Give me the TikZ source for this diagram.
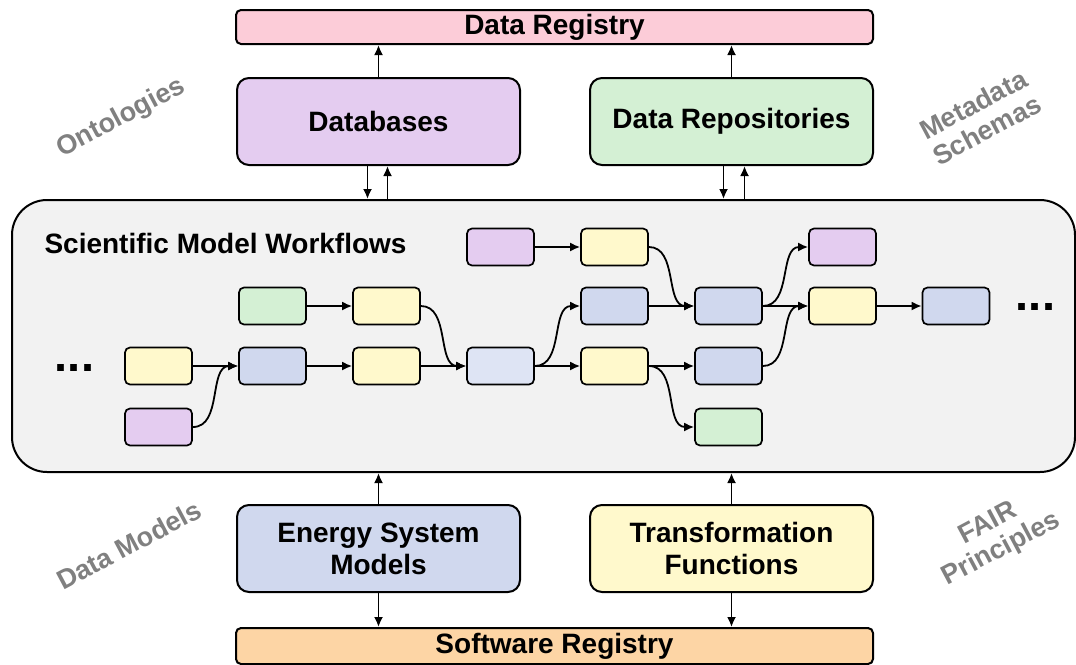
\documentclass[tikz,border=0pt]{standalone}
\usepackage{fontspec}
\setmainfont{Liberation Sans}
\usetikzlibrary{arrows.meta}
\definecolor{cpink}{HTML}{FCCCD8}
\definecolor{cpurple}{HTML}{E4CCF0}
\definecolor{cgreen}{HTML}{D4F0D4}
\definecolor{cblue}{HTML}{D0D8EE}
\definecolor{clblue}{HTML}{DEE4F4}
\definecolor{cyellow}{HTML}{FFF9CC}
\definecolor{corange}{HTML}{FDD5A5}
\definecolor{cbg}{HTML}{F2F2F2}
\definecolor{cgraytxt}{HTML}{808080}
\tikzset{
  bigbox/.style={draw, line width=2pt, rounded corners=12pt, minimum width=283pt, minimum height=87pt, align=center, font=\fontsize{28}{32}\selectfont\bfseries},
  regbox/.style={draw, line width=2pt, rounded corners=5pt, minimum width=637pt, minimum height=34pt, font=\fontsize{28}{30}\selectfont\bfseries},
  sbox/.style={draw, line width=1.7pt, rounded corners=5pt, minimum width=67pt, minimum height=37pt},
  arr/.style={line width=1.8pt, -{Latex[length=10pt,width=9pt]}},
  glabel/.style={text=cgraytxt, font=\fontsize{27}{29}\selectfont\bfseries, rotate=28, align=center},
  dots/.style={font=\fontsize{47}{47}\selectfont\bfseries, anchor=base, inner sep=0pt}
}
\begin{document}
\begin{tikzpicture}[x=1pt,y=-1pt]
\useasboundingbox (0,0) rectangle (1076,664);
% registries
\node[regbox, fill=cpink] (dreg) at (554.5,27) {Data Registry};
\node[regbox, fill=corange, minimum height=36pt] (sreg) at (554.5,646) {Software Registry};
% top boxes
\node[bigbox, fill=cpurple] (db) at (378.5,121.5) {Databases};
\node[bigbox, fill=cgreen] (repo) at (731.5,121.5) {Data Repositories};
% bottom boxes
\node[bigbox, fill=cblue] (esm) at (378.5,548.5) {Energy System\\Models};
\node[bigbox, fill=cyellow] (tf) at (731.5,548.5) {Transformation\\Functions};
% container
\node[draw, line width=2pt, rounded corners=35pt, fill=cbg, minimum width=1063pt, minimum height=272pt] (wf) at (543.5,336) {};
\node[anchor=west, font=\fontsize{28}{30}\selectfont\bfseries] (title) at (41,243) {Scientific Model Workflows};
% gray labels
\node[glabel] (onto) at (121,118) {Ontologies};
\node[glabel] (meta) at (980,117) {Metadata\\Schemas};
\node[glabel] (dmod) at (129,545) {Data Models};
\node[glabel] (fair) at (995,537) {FAIR\\Principles};
% small boxes
\node[sbox, fill=cyellow] (c1C) at (158.5,366) {};
\node[sbox, fill=cpurple] (c1D) at (158.5,427) {};
\node[sbox, fill=cgreen] (c2B) at (272.5,306) {};
\node[sbox, fill=cblue] (c2C) at (272.5,366) {};
\node[sbox, fill=cyellow] (c3B) at (386.5,306) {};
\node[sbox, fill=cyellow] (c3C) at (386.5,366) {};
\node[sbox, fill=cpurple] (c4A) at (500.5,247) {};
\node[sbox, fill=clblue] (c4C) at (500.5,366) {};
\node[sbox, fill=cyellow] (c5A) at (614.5,247) {};
\node[sbox, fill=cblue] (c5B) at (614.5,306) {};
\node[sbox, fill=cyellow] (c5C) at (614.5,366) {};
\node[sbox, fill=cblue] (c6B) at (728.5,306) {};
\node[sbox, fill=cblue] (c6C) at (728.5,366) {};
\node[sbox, fill=cgreen] (c6D) at (728.5,427) {};
\node[sbox, fill=cpurple] (c7A) at (842.5,247) {};
\node[sbox, fill=cyellow] (c7B) at (842.5,306) {};
\node[sbox, fill=cblue] (c8B) at (956,306) {};
\node[dots] (dl) at (74.5,371) {...};
\node[dots] (dr) at (1035.5,310) {...};
% workflow connectors
\draw[arr] (c1C.east) -- (c2C.west);
\draw[arr] (c1D.east) to[out=0,in=180] (c2C.west);
\draw[arr] (c2B.east) -- (c3B.west);
\draw[arr] (c2C.east) -- (c3C.west);
\draw[arr] (c3B.east) to[out=0,in=180] (c4C.west);
\draw[arr] (c3C.east) -- (c4C.west);
\draw[arr] (c4A.east) -- (c5A.west);
\draw[arr] (c4C.east) to[out=0,in=180] (c5B.west);
\draw[arr] (c4C.east) -- (c5C.west);
\draw[arr] (c5A.east) to[out=0,in=180] (c6B.west);
\draw[arr] (c5B.east) -- (c6B.west);
\draw[arr] (c5C.east) -- (c6C.west);
\draw[arr] (c5C.east) to[out=0,in=180] (c6D.west);
\draw[arr] (c6B.east) to[out=0,in=180] (c7A.west);
\draw[arr] (c6B.east) -- (c7B.west);
\draw[arr] (c6C.east) to[out=0,in=180] (c7B.west);
\draw[arr] (c7B.east) -- (c8B.west);
% vertical connectors
\draw[arr] (db.north) -- (db.north |- dreg.south);
\draw[arr] (repo.north) -- (repo.north |- dreg.south);
\draw[arr] ([xshift=-11pt]db.south) -- ([xshift=-11pt]db.south |- wf.north);
\draw[arr] ([xshift=9pt]db.south |- wf.north) -- ([xshift=9pt]db.south);
\draw[arr] ([xshift=-8pt]repo.south) -- ([xshift=-8pt]repo.south |- wf.north);
\draw[arr] ([xshift=13pt]repo.south |- wf.north) -- ([xshift=13pt]repo.south);
\draw[arr] (esm.north) -- (esm.north |- wf.south);
\draw[arr] (tf.north) -- (tf.north |- wf.south);
\draw[arr] (esm.south) -- (esm.south |- sreg.north);
\draw[arr] (tf.south) -- (tf.south |- sreg.north);
\end{tikzpicture}
\end{document}
